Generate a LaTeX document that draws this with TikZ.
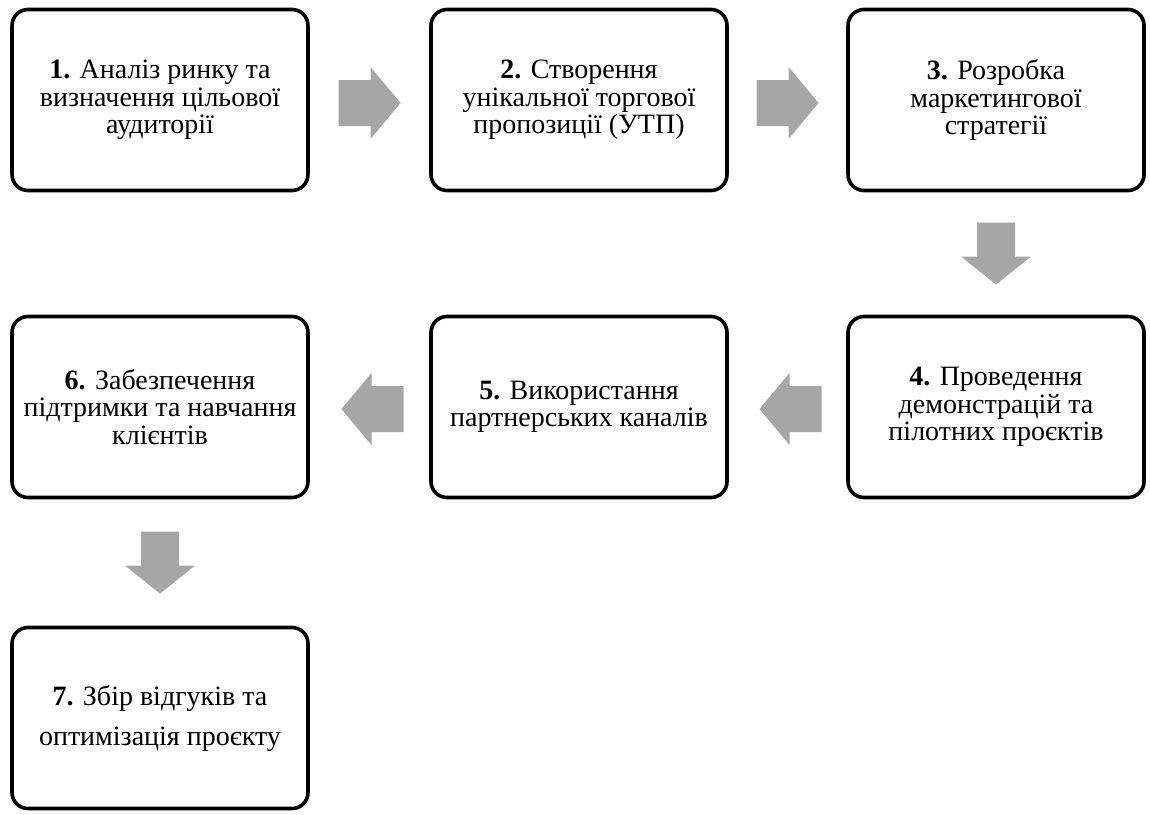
\documentclass[tikz,border=0pt]{standalone}
\usepackage{fontspec}
\setmainfont{Liberation Serif}
\usetikzlibrary{calc}
\definecolor{arrowgray}{HTML}{A6A6A6}
\tikzset{
  stepbox/.style={draw=black, line width=3.6pt, rounded corners=16pt, fill=white,
    minimum width=296pt, minimum height=181pt, align=center, inner sep=0pt,
    font=\fontsize{28pt}{27.5pt}\selectfont},
  harrow/.pic={\fill[arrowgray] (-31,-23)--(1,-23)--(1,-36)--(31,0)--(1,36)--(1,23)--(-31,23)--cycle;},
  varrow/.pic={\fill[arrowgray] (-19,-31)--(19,-31)--(19,3)--(35,3)--(0,31)--(-35,3)--(-19,3)--cycle;}
}
\begin{document}
\begin{tikzpicture}[x=1pt,y=-1pt]
\useasboundingbox (0,0) rectangle (1150,814);
\node[stepbox] (b1) at (160,100) {\textbf{1.} Аналіз ринку та\\визначення цільової\\аудиторії};
\node[stepbox] (b2) at (579,100) {\textbf{2.} Створення\\унікальної торгової\\пропозиції (УТП)};
\node[stepbox] (b3) at (996,100) {\textbf{3.} Розробка\\маркетингової\\стратегії};
\node[stepbox] (b4) at (996,407) {\textbf{4.} Проведення\\демонстрацій та\\пілотних проєктів};
\node[stepbox] (b5) at (579,407) {\textbf{5.} Використання\\партнерських каналів};
\node[stepbox] (b6) at (160,407) {\textbf{6.} Забезпечення\\підтримки та навчання\\клієнтів};
\node[stepbox, font=\fontsize{28pt}{40pt}\selectfont] (b7) at (160,718) {\textbf{7.} Збір відгуків та\\оптимізація проєкту};
\path ($(b1.east)!0.5!(b2.west)+(0,3)$) pic {harrow};
\path ($(b2.east)!0.5!(b3.west)+(0,3)$) pic {harrow};
\path ($(b3.south)!0.5!(b4.north)$) pic {varrow};
\path ($(b4.west)!0.5!(b5.east)+(3,2)$) pic[rotate=180] {harrow};
\path ($(b5.west)!0.5!(b6.east)+(3,2)$) pic[rotate=180] {harrow};
\path ($(b6.south)!0.5!(b7.north)$) pic {varrow};
\end{tikzpicture}
\end{document}
